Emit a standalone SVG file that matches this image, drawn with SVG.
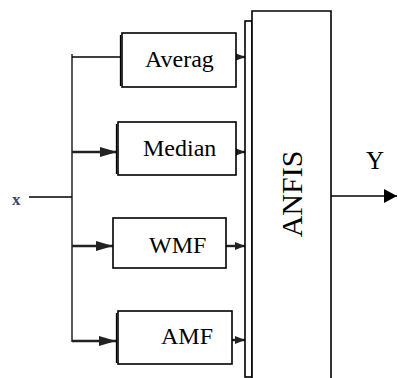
<svg xmlns="http://www.w3.org/2000/svg" width="398" height="378" viewBox="0 0 398 378">
<style>
.box{fill:#fff;stroke:#000;stroke-width:1.6}
.ln{fill:none;stroke:#000;stroke-width:1.3}
.ar{fill:none;stroke:#222;stroke-width:2.4}
.t{font-family:"Liberation Serif","Times New Roman",serif;font-size:24px;fill:#000}
</style>
<defs>
<marker id="ah" markerUnits="userSpaceOnUse" markerWidth="18" markerHeight="12" refX="17" refY="5" orient="auto">
<path d="M0,0 L17,5 L0,10 Z" fill="#222"/>
</marker>
<marker id="as" markerUnits="userSpaceOnUse" markerWidth="12" markerHeight="10" refX="10" refY="4" orient="auto">
<path d="M0,0 L10,4 L0,8 Z" fill="#222"/>
</marker>
<marker id="ao" markerUnits="userSpaceOnUse" markerWidth="14" markerHeight="16" refX="13" refY="7" orient="auto">
<path d="M0,0 L13,7 L0,14 Z" fill="#000"/>
</marker>
</defs>
<g id="connectors">
<line class="ln" x1="29" y1="197" x2="72" y2="197"/>
<line class="ln" x1="72" y1="54" x2="72" y2="342"/>
<line class="ln" x1="72" y1="57" x2="121" y2="57"/>
<line class="ar" x1="72" y1="152" x2="117" y2="152" marker-end="url(#ah)"/>
<line class="ar" x1="72" y1="246" x2="113" y2="246" marker-end="url(#ah)"/>
<line class="ar" x1="72" y1="341" x2="116" y2="341" marker-end="url(#ah)"/>
<line class="ar" x1="236" y1="57" x2="245" y2="57" marker-end="url(#as)"/>
<line class="ar" x1="236" y1="152" x2="245" y2="152" marker-end="url(#as)"/>
<line class="ar" x1="226" y1="246" x2="245" y2="246" marker-end="url(#as)"/>
<line class="ar" x1="232" y1="340" x2="245" y2="340" marker-end="url(#as)"/>
<line class="ln" x1="331" y1="196" x2="397" y2="196" stroke-width="1.5" marker-end="url(#ao)"/>
</g>
<g id="x-label">
<text x="12" y="205" font-family="Liberation Serif, serif" font-size="17" font-weight="bold" fill="#44466a">x</text>
</g>
<g id="averag">
<rect class="box" x="122" y="33" width="114" height="54"/>
<line class="ln" x1="120.5" y1="35" x2="120.5" y2="86"/>
<text class="t" x="145" y="67">Averag</text>
</g>
<g id="median">
<rect class="box" x="118" y="122" width="118" height="53"/>
<line class="ln" x1="116.5" y1="124" x2="116.5" y2="174"/>
<text class="t" x="143" y="156">Median</text>
</g>
<g id="wmf">
<rect class="box" x="113" y="218" width="113" height="50"/>
<text class="t" x="149" y="253">WMF</text>
</g>
<g id="amf">
<rect class="box" x="118" y="311" width="114" height="53"/>
<line class="ln" x1="116.5" y1="313" x2="116.5" y2="363"/>
<text class="t" x="161" y="344">AMF</text>
</g>
<g id="bus">
<rect class="box" x="245" y="21" width="7" height="356" stroke-width="1.3"/>
</g>
<g id="anfis">
<path d="M252,380 L252,11 L331,11 L331,380" class="box"/>
<text x="302" y="194" transform="rotate(-90 302 194)" text-anchor="middle" font-family="Liberation Serif, serif" font-size="30">ANFIS</text>
</g>
<g id="y-label">
<text x="375" y="169" text-anchor="middle" font-family="Liberation Serif, serif" font-size="25">Y</text>
</g>
</svg>
